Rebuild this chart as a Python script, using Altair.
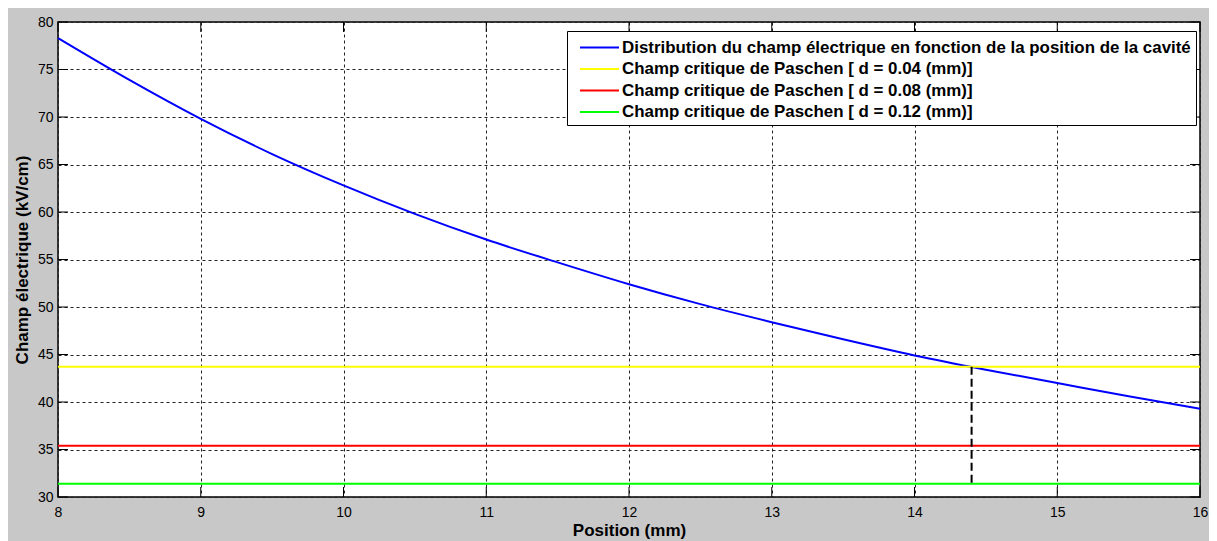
import altair as alt
import pandas as pd

# ---- data ----
positions = [8.0, 8.5, 9.0, 9.5, 10.0, 10.5, 11.0, 11.5, 12.0, 12.5,
             13.0, 13.5, 14.0, 14.5, 15.0, 15.5, 16.0]
champ = [78.3, 73.9, 69.8, 66.1, 62.8, 59.8, 57.1, 54.7, 52.4, 50.3,
         48.4, 46.6, 44.9, 43.4, 42.0, 40.6, 39.3]

series_names = [
    "Distribution du champ électrique en fonction de la position de la cavité",
    "Champ critique de Paschen [ d = 0.04 (mm)]",
    "Champ critique de Paschen [ d = 0.08 (mm)]",
    "Champ critique de Paschen [ d = 0.12 (mm)]",
]
series_colors = ["#0000ff", "#ffff00", "#ff0000", "#00ff00"]
paschen_values = [43.7, 35.4, 31.4]

cross_x = [14.4]
cross_top = [43.7]
cross_bottom = [31.3]

x_ticks = [8, 9, 10, 11, 12, 13, 14, 15, 16]
y_ticks = [30, 35, 40, 45, 50, 55, 60, 65, 70, 75, 80]

W, H = 1142, 475
FONT = "Liberation Sans"

curve_df = pd.DataFrame({"x": positions, "y": champ, "serie": series_names[0]})
rule_df = pd.DataFrame({"y": paschen_values, "serie": series_names[1:]})
cross_df = pd.DataFrame({"x": cross_x, "y": cross_top, "y2": cross_bottom})
xt_df = pd.DataFrame({"x": x_ticks})
yt_df = pd.DataFrame({"y": y_ticks})

xscale = alt.Scale(domain=[8, 16], nice=False, zero=False)
yscale = alt.Scale(domain=[30, 80], nice=False, zero=False)

color = alt.Color(
    "serie:N",
    scale=alt.Scale(domain=series_names, range=series_colors),
    sort=series_names,
    legend=alt.Legend(
        title=None,
        orient="none",
        legendX=509,
        legendY=9,
        symbolType="M-1.86,0H1.86",
        symbolSize=441,
        symbolStrokeWidth=2,
        symbolOffset=16,
        labelFontSize=16.9,
        labelFont=FONT,
        labelFontWeight="bold",
        labelColor="#000000",
        labelLimit=0,
        fillColor="#ffffff",
        strokeColor="#000000",
        padding=5,
        rowPadding=1.5,
        labelOffset=11,
    ),
)

xaxis = alt.Axis(
    values=x_ticks, format="d", title="Position (mm)", tickSize=0, domain=False,
    labelFontSize=14, labelFont=FONT, labelColor="#000000", labelPadding=8,
    titleFontSize=17, titleFont=FONT, titleFontWeight="bold", titleColor="#000000",
    titlePadding=3, grid=True, gridDash=[3, 3], gridColor="#222222", gridOpacity=1,
    labelFlush=False,
)
yaxis = alt.Axis(
    values=y_ticks, format="d", title="Champ électrique (kV/cm)", tickSize=0, domain=False,
    labelFontSize=14, labelFont=FONT, labelColor="#000000", labelPadding=5,
    titleFontSize=17, titleFont=FONT, titleFontWeight="bold", titleColor="#000000",
    titlePadding=6, grid=True, gridDash=[3, 3], gridColor="#222222", gridOpacity=1,
    labelFlush=False,
)

base_x = alt.X("x:Q", scale=xscale, axis=xaxis)
base_y = alt.Y("y:Q", scale=yscale, axis=yaxis)

curve = alt.Chart(curve_df).mark_line(strokeWidth=2, interpolate="monotone").encode(
    x=base_x, y=base_y, color=color
)
rules = alt.Chart(rule_df).mark_rule(strokeWidth=2).encode(
    y=alt.Y("y:Q", scale=yscale), color=color
)
cross = alt.Chart(cross_df).mark_rule(strokeWidth=2, strokeDash=[8, 4], color="#000000").encode(
    x=alt.X("x:Q", scale=xscale), y=alt.Y("y:Q", scale=yscale), y2="y2:Q"
)

tick_len = 10
bottom_ticks = alt.Chart(xt_df).mark_rule(color="#000000", strokeWidth=1).encode(
    x=alt.X("x:Q", scale=xscale), y=alt.value(H), y2=alt.value(H - tick_len)
)
top_ticks = alt.Chart(xt_df).mark_rule(color="#000000", strokeWidth=1).encode(
    x=alt.X("x:Q", scale=xscale), y=alt.value(0), y2=alt.value(tick_len)
)
left_ticks = alt.Chart(yt_df).mark_rule(color="#000000", strokeWidth=1).encode(
    y=alt.Y("y:Q", scale=yscale), x=alt.value(0), x2=alt.value(tick_len)
)
right_ticks = alt.Chart(yt_df).mark_rule(color="#000000", strokeWidth=1).encode(
    y=alt.Y("y:Q", scale=yscale), x=alt.value(W), x2=alt.value(W - tick_len)
)

chart = (
    alt.layer(curve, rules, cross, bottom_ticks, top_ticks, left_ticks, right_ticks)
    .properties(
        width=W, height=H,
        background="#c8c8c8",
        padding={"left": 50, "top": 14, "right": 9, "bottom": 44},
        autosize=alt.AutoSizeParams(type="none"),
    )
    .configure_view(stroke="#000000", strokeWidth=1.5, fill="#ffffff")
)

chart.save("out.html", embed_options={"renderer": "svg", "actions": False})
